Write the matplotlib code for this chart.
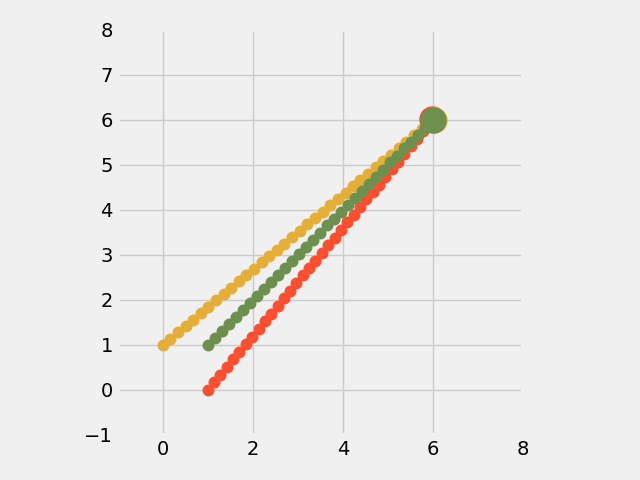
import matplotlib
matplotlib.use("Agg")
import matplotlib.pyplot as plt

plt.style.use("fivethirtyeight")

orange_x = [0.00, 0.17, 0.34, 0.51, 0.68, 0.85, 1.01, 1.18, 1.35, 1.52, 1.69, 1.86,
            2.03, 2.20, 2.37, 2.54, 2.70, 2.87, 3.04, 3.21, 3.38, 3.55, 3.72, 3.89,
            4.06, 4.23, 4.39, 4.56, 4.73, 4.90, 5.07, 5.24, 5.41, 5.58, 5.75, 5.92]
orange_y = [1.00, 1.14, 1.28, 1.42, 1.56, 1.70, 1.84, 1.99, 2.13, 2.27, 2.41, 2.55,
            2.69, 2.83, 2.97, 3.11, 3.25, 3.39, 3.53, 3.68, 3.82, 3.96, 4.10, 4.24,
            4.38, 4.52, 4.66, 4.80, 4.94, 5.08, 5.22, 5.36, 5.51, 5.65, 5.79, 5.93]

red_x = [1.00, 1.14, 1.28, 1.42, 1.56, 1.70, 1.84, 1.99, 2.13, 2.27, 2.41, 2.55,
         2.69, 2.83, 2.97, 3.11, 3.25, 3.39, 3.53, 3.68, 3.82, 3.96, 4.10, 4.24,
         4.38, 4.52, 4.66, 4.80, 4.94, 5.08, 5.22, 5.36, 5.51, 5.65, 5.79, 5.93]
red_y = [0.00, 0.17, 0.34, 0.51, 0.68, 0.85, 1.01, 1.18, 1.35, 1.52, 1.69, 1.86,
         2.03, 2.20, 2.37, 2.54, 2.70, 2.87, 3.04, 3.21, 3.38, 3.55, 3.72, 3.89,
         4.06, 4.23, 4.39, 4.56, 4.73, 4.90, 5.07, 5.24, 5.41, 5.58, 5.75, 5.92]

green_x = [1.00, 1.16, 1.31, 1.47, 1.62, 1.78, 1.93, 2.09, 2.24, 2.40, 2.56, 2.71,
           2.87, 3.02, 3.18, 3.33, 3.49, 3.65, 3.80, 3.96, 4.11, 4.27, 4.42, 4.58,
           4.73, 4.89, 5.05, 5.20, 5.36, 5.51, 5.67, 5.82, 5.98]
green_y = list(green_x)

end_red = (5.99, 6.02)
end_orange = (6.03, 5.99)
end_green = (6.00, 6.00)

RED = "#fc4f30"
ORANGE = "#e5ae38"
GREEN = "#6d904f"

fig = plt.figure(figsize=(6.4, 4.8), dpi=100)
ax = fig.add_axes([117.7 / 640, 44.5 / 480, 405.3 / 640, 406.5 / 480])

ax.plot(red_x, red_y, "o", color=RED, markersize=7.6, linestyle="none")
ax.plot(orange_x, orange_y, "o", color=ORANGE, markersize=7.6, linestyle="none")
ax.plot(green_x, green_y, "o", color=GREEN, markersize=7.6, linestyle="none")

ax.plot([end_red[0]], [end_red[1]], "o", color=RED, markersize=18)
ax.plot([end_orange[0]], [end_orange[1]], "o", color=ORANGE, markersize=18)
ax.plot([end_green[0]], [end_green[1]], "o", color=GREEN, markersize=18)

ax.set_xlim(-1, 8)
ax.set_ylim(-1, 8)
ax.set_xticks([0, 2, 4, 6, 8])
ax.set_yticks(range(-1, 9))
ax.set_aspect("equal")

fig.savefig("out.png", dpi=100)
